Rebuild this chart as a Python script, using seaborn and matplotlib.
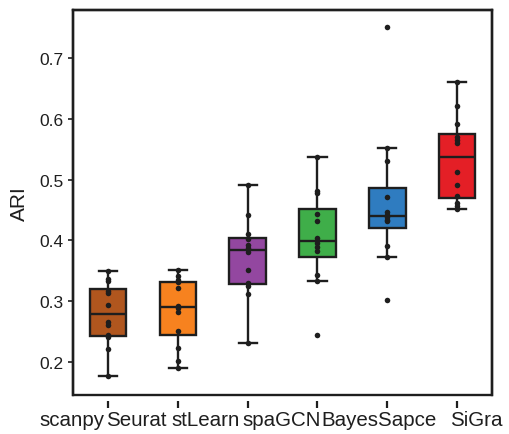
import pandas as pd
import seaborn as sns
import matplotlib.pyplot as plt
from matplotlib.transforms import ScaledTranslation

# ARI per slice (12 DLPFC slices per method)
methods = ['scanpy', 'Seurat', 'stLearn', 'spaGCN', 'BayesSapce', 'SiGra']
scanpy = [0.176, 0.221, 0.240, 0.244, 0.261, 0.265, 0.293, 0.313, 0.316, 0.333, 0.337, 0.349]
seurat = [0.190, 0.201, 0.222, 0.251, 0.281, 0.289, 0.292, 0.321, 0.331, 0.334, 0.341, 0.351]
stlearn = [0.231, 0.311, 0.325, 0.330, 0.351, 0.381, 0.387, 0.392, 0.402, 0.411, 0.441, 0.491]
spagcn = [0.244, 0.333, 0.343, 0.382, 0.389, 0.395, 0.404, 0.431, 0.443, 0.478, 0.481, 0.537]
bayesspace = [0.301, 0.372, 0.391, 0.431, 0.434, 0.438, 0.442, 0.446, 0.471, 0.531, 0.552, 0.752]
sigra = [0.451, 0.457, 0.461, 0.473, 0.491, 0.512, 0.561, 0.566, 0.571, 0.591, 0.621, 0.661]

colors = ['#B0561E', '#F7821F', '#9347A0', '#3FAE49', '#2F7CC0', '#E41F26']
yticks = [0.2, 0.3, 0.4, 0.5, 0.6, 0.7]
# horizontal nudge of the x labels in pixels (labels are crowded in the original)
label_shift = [-36, -41, -42, -36, -8, 19]

rows = []
for m, vals in zip(methods, [scanpy, seurat, stlearn, spagcn, bayesspace, sigra]):
    rows += [(m, v) for v in vals]
df = pd.DataFrame(rows, columns=['method', 'ARI'])

plt.rcParams['font.family'] = ['Liberation Sans', 'DejaVu Sans']
ink = '#1e1e1e'

fig = plt.figure(figsize=(5.1, 4.35), dpi=100)
ax = fig.add_axes([0.143, 0.0897, 0.822, 0.8855])

sns.boxplot(data=df, x='method', y='ARI', hue='method', order=methods, hue_order=methods,
            palette=colors, saturation=1, width=0.52, linewidth=1.7, linecolor=ink,
            showfliers=False, legend=False, ax=ax)
sns.stripplot(data=df, x='method', y='ARI', order=methods, color=ink, size=4,
              jitter=False, ax=ax)

ax.set_xlim(-0.5, 5.5)
ax.set_ylim(0.145, 0.78)
ax.set_yticks(yticks)
ax.set_yticklabels([f'{t:.1f}' for t in yticks])
ax.set_xticks(range(len(methods)))
ax.set_xticklabels(methods)
ax.set_xlabel('')
ax.set_ylabel('ARI', fontsize=15, color=ink, labelpad=7)

# frame: three spines + patch edge for the bottom line
for s in ax.spines.values():
    s.set_color(ink)
    s.set_linewidth(1.7)
ax.patch.set_edgecolor(ink)
ax.patch.set_linewidth(1.7)

# x ticks sit a little below the frame: move the (hidden) bottom spine outward
ax.spines['bottom'].set_position(('outward', 4))
ax.spines['bottom'].set_visible(False)

ax.tick_params(axis='y', which='major', direction='out', left=True, length=3.5, width=1.2,
               pad=3.5, labelsize=12.5, color=ink, labelcolor=ink)
ax.tick_params(axis='x', which='major', direction='out', bottom=True, length=5, width=1.6,
               pad=1.5, labelsize=14.8, color=ink, labelcolor=ink)
for t in ax.xaxis.get_major_ticks() + ax.yaxis.get_major_ticks():
    t.tick1line.set_visible(True)
    t.tick1line.set_zorder(5)
for lab, dx in zip(ax.get_xticklabels(), label_shift):
    lab.set_transform(lab.get_transform() + ScaledTranslation(dx / 100, 0, fig.dpi_scale_trans))

fig.savefig('out.png', dpi=100)
